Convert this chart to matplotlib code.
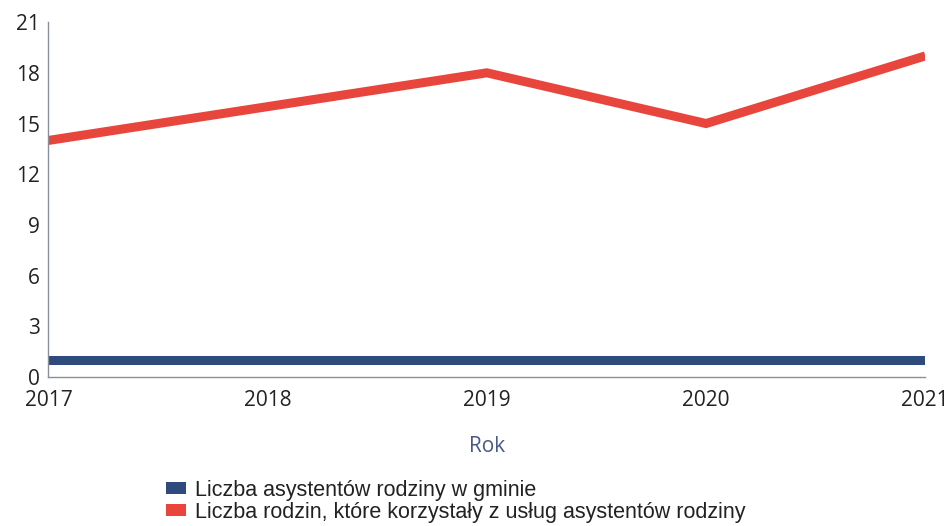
import matplotlib
matplotlib.use("Agg")
import matplotlib.pyplot as plt
from matplotlib.patches import Patch

# data
years = [2017, 2018, 2019, 2020, 2021]
asystenci = [1, 1, 1, 1, 1]
rodziny = [14, 16, 18, 15, 19]
y_ticks = [0, 3, 6, 9, 12, 15, 18, 21]
labels = ["Liczba asystentów rodziny w gminie",
          "Liczba rodzin, które korzystały z usług asystentów rodziny"]

BLUE = "#2f4a7c"
RED = "#e8453c"

fig = plt.figure(figsize=(9.5, 5.26), dpi=100)
ax = fig.add_axes([0.051, 0.283, 0.923, 0.675])

ax.plot(years, asystenci, color=BLUE, lw=6.5, solid_capstyle="butt", solid_joinstyle="miter")
ax.plot(years, rodziny, color=RED, lw=6.5, solid_capstyle="butt", solid_joinstyle="miter")

ax.set_xlim(years[0], years[-1])
ax.set_ylim(0, 21)
ax.set_xticks(years)
ax.set_yticks(y_ticks)
ax.tick_params(axis="both", length=0, labelsize=15, labelcolor="#222222")
ax.tick_params(axis="x", pad=9)
ax.tick_params(axis="y", pad=6)
for lbl in ax.get_xticklabels() + ax.get_yticklabels():
    lbl.set_family("Open Sans")

for s in ["top", "right"]:
    ax.spines[s].set_visible(False)
for s in ["left", "bottom"]:
    ax.spines[s].set_color("#8a8f9e")
    ax.spines[s].set_linewidth(1.0)

ax.set_xlabel("Rok", fontsize=15, color="#4a5a85", family="Open Sans", labelpad=18)

handles = [Patch(facecolor=BLUE), Patch(facecolor=RED)]
fig.legend(handles, labels, loc="upper left", bbox_to_anchor=(0.175, 0.088),
           frameon=False, handlelength=0.9, handleheight=0.45, handletextpad=0.45,
           labelspacing=0.05, borderpad=0, borderaxespad=0,
           prop={"family": "Liberation Sans", "size": 15.5}, labelcolor="#222222")

fig.savefig("out.png", dpi=100)
